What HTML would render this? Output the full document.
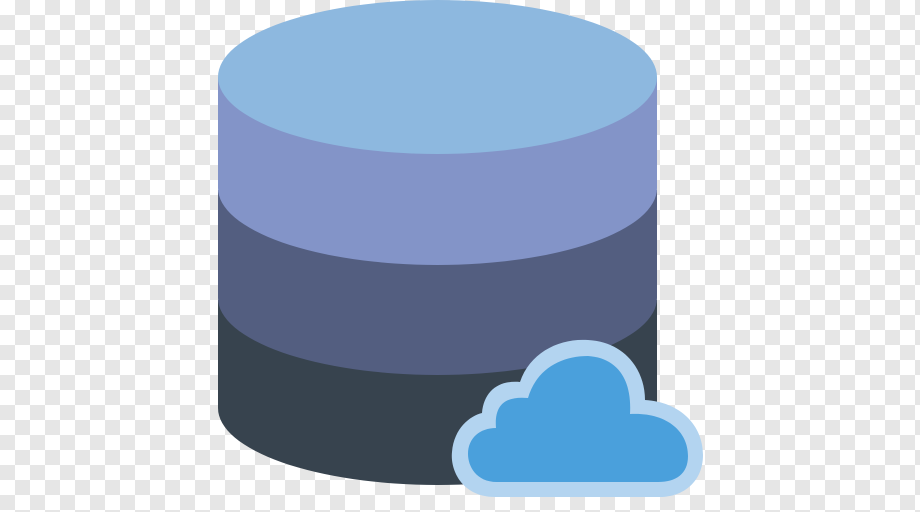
<!DOCTYPE html>
<html><head><style>
html,body{margin:0;padding:0;width:920px;height:512px;overflow:hidden;
background-color:#fff;
background-image:linear-gradient(45deg,#e6e6e6 25%,transparent 25%,transparent 75%,#e6e6e6 75%),linear-gradient(45deg,#e6e6e6 25%,transparent 25%,transparent 75%,#e6e6e6 75%);
background-size:0 0;}
</style></head><body>
<svg width="920" height="512" viewBox="0 0 920 512" style="position:absolute;left:0;top:0">
<defs><pattern id="ck" width="30" height="30" patternUnits="userSpaceOnUse">
<rect width="30" height="30" fill="#fff"/><rect x="15" y="0" width="15" height="15" fill="#e6e6e6"/><rect x="0" y="15" width="15" height="15" fill="#e6e6e6"/></pattern></defs>
<rect width="920" height="512" fill="url(#ck)"/>
<!-- bottom band -->
<path d="M218 300 L218 408 A219.5 77 0 0 0 657 408 L657 300 Z" fill="#37434e"/>
<path d="M218 190 L218 298 A219.5 77 0 0 0 657 298 L657 190 Z" fill="#535e80"/>
<path d="M218 77 L218 188 A219.5 77 0 0 0 657 188 L657 77 Z" fill="#8394c8"/>
<ellipse cx="437.5" cy="77" rx="219.5" ry="77" fill="#8db8df"/>
<!-- cloud -->
<g>
<path d="M495 497 C462 497 450 470 452 452 C454 428 470 416 482 413 C484 390 500 380 520 382 C530 352 560 338 588 340 C625 342 645 370 645 400 C680 402 703 425 703 455 C703 482 683 497 660 497 Z" fill="#b3d4f0"/>
<path d="M497 482 C476 482 468 466 468 454 C468 438 480 428 496 428 C494 404 506 396 528 398 C536 370 560 356 588 356 C618 358 632 380 630 414 C665 412 688 430 688 456 C688 474 676 482 658 482 Z" fill="#4aa0dc"/>
</g>
</svg>
</body></html>
